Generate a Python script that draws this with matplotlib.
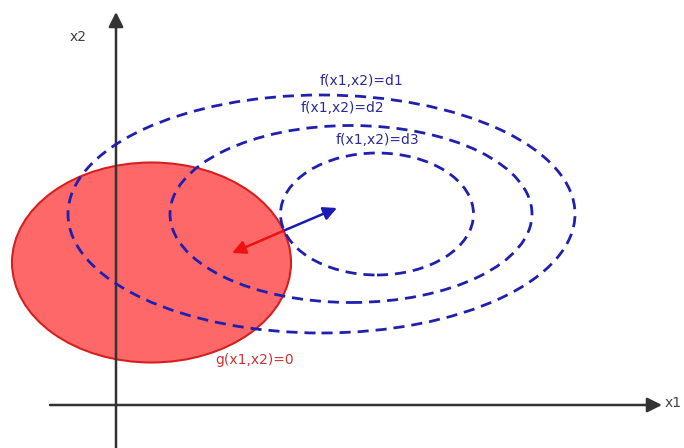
import matplotlib.pyplot as plt
from matplotlib.patches import Ellipse

# origin = crossing of the x1/x2 axes
x_range = (-116, 568)
y_range = (-43, 405)

# constraint region g(x1,x2)=0
g_center = (35.5, 142.5)
g_size = (279, 200)

# contour levels of f
levels = ["d1", "d2", "d3"]
f_centers = [(205.5, 191), (235, 191), (261, 191)]
f_sizes = [(507, 238), (362, 177), (193, 122)]
f_label_pos = [(246, 324), (226, 297), (261, 265)]
g_label_pos = (139, 45)

# gradient arrows at the touching point
touch = (167, 174)
grad_f = (221, 197)
grad_g = (116, 152)

# axes extents
x_axis = (-66, 546)
y_axis = (-43, 393)

fig = plt.figure(figsize=(6.84, 4.48), dpi=100)
ax = fig.add_axes([0, 0, 1, 1])
ax.set_xlim(*x_range)
ax.set_ylim(*y_range)
ax.set_aspect('auto')
ax.axis('off')

# red constraint ellipse
ax.add_patch(Ellipse(g_center, g_size[0], g_size[1], facecolor='#ff6868',
                     edgecolor='#d42020', lw=1.5, zorder=1))

# coordinate axes
axis_color = '#333333'
ax.annotate('', xy=(x_axis[1], 0), xytext=(x_axis[0], 0),
            arrowprops=dict(arrowstyle='-|>', color=axis_color, lw=1.8,
                            mutation_scale=22, shrinkA=0, shrinkB=0), zorder=2)
ax.annotate('', xy=(0, y_axis[1]), xytext=(0, y_axis[0]),
            arrowprops=dict(arrowstyle='-|>', color=axis_color, lw=1.8,
                            mutation_scale=22, shrinkA=0, shrinkB=0), zorder=2)
ax.text(557, 2, 'x1', fontsize=10, color='#444444', ha='center', va='center')
ax.text(-38, 368, 'x2', fontsize=10, color='#444444', ha='center', va='center')

# dashed contours of f
for lvl, c, s, p in zip(levels, f_centers, f_sizes, f_label_pos):
    ax.add_patch(Ellipse(c, s[0], s[1], fill=False, edgecolor='#2020b0',
                         lw=2, linestyle=(0, (4, 2.5)), zorder=3))
    ax.text(p[0], p[1], f'f(x1,x2)={lvl}', fontsize=10, color='#2a2a9a',
            ha='center', va='center')

ax.text(g_label_pos[0], g_label_pos[1], 'g(x1,x2)=0', fontsize=10,
        color='#cc3333', ha='center', va='center')

# gradients
ax.annotate('', xy=grad_f, xytext=touch,
            arrowprops=dict(arrowstyle='-|>', color='#1a1ab4', lw=1.8,
                            mutation_scale=20, shrinkA=0, shrinkB=0), zorder=4)
ax.annotate('', xy=grad_g, xytext=touch,
            arrowprops=dict(arrowstyle='-|>', color='#ee1111', lw=1.8,
                            mutation_scale=20, shrinkA=0, shrinkB=0), zorder=4)

plt.savefig('out.png', dpi=100)
